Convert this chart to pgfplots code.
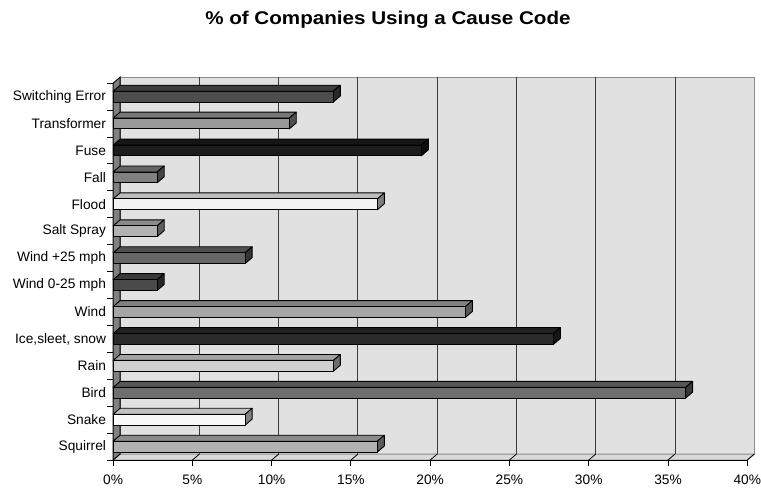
\documentclass[border=0pt]{standalone}
\usepackage{graphicx}
\usepackage{pgfplots}
\pgfplotsset{compat=1.18}
\usepackage{fontspec}
\setmainfont{Liberation Sans}
\definecolor{wallc}{HTML}{E1E1E1}
\definecolor{floorc}{HTML}{D9D9D9}
\definecolor{sidewall}{HTML}{808080}
\definecolor{edgegray}{HTML}{8C8C8C}
\definecolor{gridc}{HTML}{3A3A3A}
\definecolor{cSquirrel}{HTML}{B2B2B2}
\definecolor{cSnake}{HTML}{F8F8F8}
\definecolor{cBird}{HTML}{6E6E6E}
\definecolor{cRain}{HTML}{D0D0D0}
\definecolor{cIce}{HTML}{2A2A2A}
\definecolor{cWind}{HTML}{A6A6A6}
\definecolor{cWindlo}{HTML}{4A4A4A}
\definecolor{cWindhi}{HTML}{666666}
\definecolor{cSalt}{HTML}{B2B2B2}
\definecolor{cFlood}{HTML}{F2F2F2}
\definecolor{cFall}{HTML}{808080}
\definecolor{cFuse}{HTML}{1C1C1C}
\definecolor{cTrans}{HTML}{999999}
\definecolor{cSwitch}{HTML}{4D4D4D}
% depth offsets in axis units
\def\dx{0.441}
\def\dy{0.2226}
\newcommand{\tdbar}[3]{%
  \pgfmathsetmacro{\ylo}{#1+0.3}%
  \pgfmathsetmacro{\yhi}{#1+0.7}%
  \pgfmathsetmacro{\ylob}{#1+0.3+\dy}%
  \pgfmathsetmacro{\yhib}{#1+0.7+\dy}%
  \pgfmathsetmacro{\xb}{#2+\dx}%
  \edef\doit{%
    \noexpand\addplot[fill=#3!78!black, draw=black, line width=0.9bp, line join=round]
      coordinates {(0,\yhi) (#2,\yhi) (\xb,\yhib) (\dx,\yhib)} --cycle;
    \noexpand\addplot[fill=#3!52!black, draw=black, line width=0.9bp, line join=round]
      coordinates {(#2,\ylo) (\xb,\ylob) (\xb,\yhib) (#2,\yhi)} --cycle;
    \noexpand\addplot[fill=#3, draw=black, line width=0.9bp, line join=round]
      coordinates {(0,\ylo) (#2,\ylo) (#2,\yhi) (0,\yhi)} --cycle;
  }\doit
}
\begin{document}
\begin{tikzpicture}
\begin{axis}[
  at={(0,0)}, anchor=south west,
  x=15.875bp, y=26.96bp,
  xmin=0, xmax=40.441, ymin=0, ymax=14.2226,
  enlargelimits=false, clip=false,
  axis line style={draw=none},
  xtick={0,5,...,40},
  xticklabels={0\%,5\%,10\%,15\%,20\%,25\%,30\%,35\%,40\%},
  ytick={0.5,1.5,...,13.5},
  yticklabels={Squirrel,Snake,Bird,Rain,{Ice,sleet, snow},Wind,Wind 0-25 mph,Wind +25 mph,Salt Spray,Flood,Fall,Fuse,Transformer,Switching Error},
  xtick pos=bottom, ytick pos=left,
  tick align=outside,
  major tick length=0pt,
  ticklabel style={font=\fontsize{13.8}{16}\selectfont},
  yticklabel style={anchor=east, inner sep=0pt, xshift=-7bp},
  xticklabel style={anchor=north, inner sep=0pt, yshift=-15bp},
  /pgf/number format/assume math mode=true,
]
% back wall
\addplot[fill=wallc, draw=edgegray, line width=0.9bp] coordinates {(\dx,\dy) (40.441,\dy) (40.441,14.2226) (\dx,14.2226)} --cycle;
% floor
\addplot[fill=floorc, draw=edgegray, line width=0.9bp] coordinates {(0,0) (40,0) (40.441,\dy) (\dx,\dy)} --cycle;
% grid lines on the back wall and floor
\pgfplotsinvokeforeach{5,10,15,20,25,30,35}{
  \addplot[gridc, line width=0.9bp] coordinates {(#1+\dx,\dy) (#1+\dx,14.2226)};
}
\pgfplotsinvokeforeach{5,10,15,20,25,30,35,40}{
  \addplot[black, line width=0.8bp] coordinates {(#1,0) (#1+\dx,\dy)};
}
% left wall
\addplot[fill=sidewall, draw=black, line width=0.9bp] coordinates {(0,0) (\dx,\dy) (\dx,14.2226) (0,14)} --cycle;
% front bottom edge and x tick marks
\addplot[black, line width=1bp] coordinates {(0,0) (40,0)};
\pgfplotsinvokeforeach{0,5,10,15,20,25,30,35,40}{
  \addplot[black, line width=0.9bp] coordinates {(#1,0) (#1,-0.22)};
}
% y category ticks
\pgfplotsinvokeforeach{0,1,2,3,4,5,6,7,8,9,10,11,12,13,14}{
  \addplot[black, line width=0.9bp] coordinates {(-0.38,#1) (0,#1)};
}
% bars: index, value (%), colour
\tdbar{0}{16.67}{cSquirrel}
\tdbar{1}{8.33}{cSnake}
\tdbar{2}{36.11}{cBird}
\tdbar{3}{13.89}{cRain}
\tdbar{4}{27.78}{cIce}
\tdbar{5}{22.22}{cWind}
\tdbar{6}{2.78}{cWindlo}
\tdbar{7}{8.33}{cWindhi}
\tdbar{8}{2.78}{cSalt}
\tdbar{9}{16.67}{cFlood}
\tdbar{10}{2.78}{cFall}
\tdbar{11}{19.44}{cFuse}
\tdbar{12}{11.11}{cTrans}
\tdbar{13}{13.89}{cSwitch}
\end{axis}
\node[font=\bfseries\fontsize{18.5}{22}\selectfont] at (275.2bp,440.7bp) {\scalebox{1.12}[1]{\% of Companies Using a Cause Code}};
\path[use as bounding box] (-113.3bp,-30.3bp) rectangle (647.7bp,460.7bp);
\end{tikzpicture}
\end{document}
